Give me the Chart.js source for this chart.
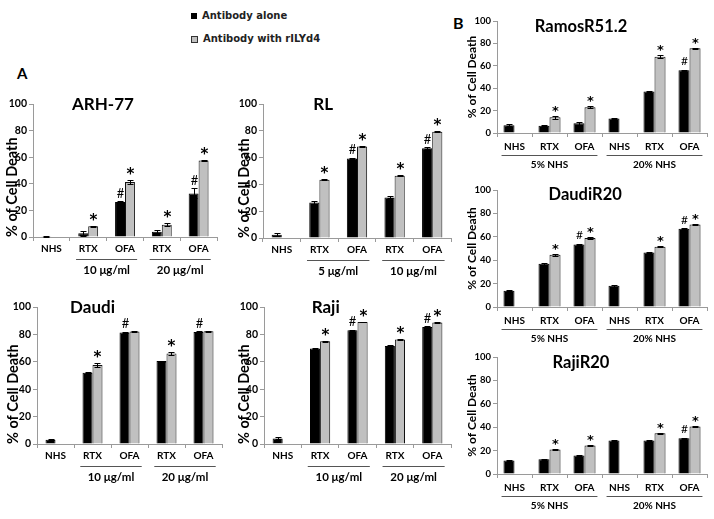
<!DOCTYPE html>
<html>
<head>
<meta charset="utf-8">
<script src="https://cdn.jsdelivr.net/npm/chart.js@4.4.1/dist/chart.umd.min.js"></script>
<style>
  body{margin:0;background:#fff;width:714px;height:519px;position:relative;overflow:hidden;font-family:Lato,sans-serif}
  canvas{position:absolute}
  .lab{position:absolute;font-weight:bold;color:#000;line-height:1}
  .key{position:absolute;font:bold 10px "DejaVu Sans";color:#222;white-space:nowrap;line-height:12px}
  .sw{position:absolute}
</style>
</head>
<body>
<div class="lab" style="left:17px;top:66px;font-size:15px">A</div>
<div class="lab" style="left:453px;top:15px;font-size:16px">B</div>
<div class="sw" style="left:191px;top:13px;width:6px;height:6px;background:#000"></div>
<div class="key" id="key0" style="left:202px;top:10px"></div>
<div class="sw" style="left:191px;top:36px;width:5px;height:5px;background:#c0c0c0;border:1px solid #333"></div>
<div class="key" id="key1" style="left:203px;top:33px"></div>

<canvas id="arh"></canvas>
<canvas id="rl"></canvas>
<canvas id="daudi"></canvas>
<canvas id="raji"></canvas>
<canvas id="ramos"></canvas>
<canvas id="daudiR"></canvas>
<canvas id="rajiR"></canvas>

<script>
// Data
const seriesNames = ['Antibody alone', 'Antibody with rILYd4'];
const catsA = ['NHS', 'RTX', 'OFA', 'RTX', 'OFA'];
const catsB = ['NHS', 'RTX', 'OFA', 'NHS', 'RTX', 'OFA'];
const spansA = [[1, 2], [3, 4]];
const spansB = [[0, 2], [3, 5]];
const yTicks = [0, 20, 40, 60, 80, 100];

// ARH-77
const arhAlone = [0.5, 2.8, 26.4, 4.0, 32.8];
const arhAloneErr = [0.4, 1.7, 0.6, 1.0, 3.7];
const arhRily = [null, 8.0, 41.4, 9.3, 57.5];
const arhRilyErr = [0, 0.4, 1.6, 1.0, 0.7];
const arhAloneMark = ['', '', '#', '', '#'];
const arhRilyMark = ['', '*', '*', '*', '*'];
const arhGroups = ['10 μg/ml', '20 μg/ml'];

// RL
const rlAlone = [2.5, 26.5, 59.4, 30.3, 67.0];
const rlAloneErr = [1.0, 0.8, 0.5, 0.8, 0.6];
const rlRily = [null, 43.4, 68.2, 46.4, 79.3];
const rlRilyErr = [0, 0.3, 0.4, 0.3, 0.4];
const rlAloneMark = ['', '', '#', '', '#'];
const rlRilyMark = ['', '*', '*', '*', '*'];
const rlGroups = ['5 μg/ml', '10 μg/ml'];

// Daudi
const daudiAlone = [3.1, 52.0, 81.4, 60.5, 81.8];
const daudiAloneErr = [0.5, 0.4, 0.5, 0.4, 0.4];
const daudiRily = [null, 57.6, 82.2, 66.1, 82.3];
const daudiRilyErr = [0, 1.2, 0.5, 1.2, 0.3];
const daudiAloneMark = ['', '', '#', '', '#'];
const daudiRilyMark = ['', '*', '', '*', ''];
const daudiGroups = ['10 μg/ml', '20 μg/ml'];

// Raji
const rajiAlone = [4.1, 69.7, 83.0, 71.6, 85.4];
const rajiAloneErr = [0.8, 0.6, 0.3, 0.4, 0.5];
const rajiRily = [null, 75.0, 89.0, 76.2, 88.6];
const rajiRilyErr = [0, 0.3, 0.2, 0.3, 0.3];
const rajiAloneMark = ['', '', '#', '', '#'];
const rajiRilyMark = ['', '*', '*', '*', '*'];
const rajiGroups = ['10 μg/ml', '20 μg/ml'];

// RamosR51.2
const ramosAlone = [7.0, 6.5, 8.7, 13.0, 37.0, 56.0];
const ramosAloneErr = [0.7, 0.6, 1.2, 0.8, 0.4, 0.4];
const ramosRily = [null, 14.0, 23.0, null, 68.0, 75.6];
const ramosRilyErr = [0, 1.4, 0.8, 0, 1.2, 0.4];
const ramosAloneMark = ['', '', '', '', '', '#'];
const ramosRilyMark = ['', '*', '*', '', '*', '*'];

// DaudiR20
const daudiRAlone = [13.9, 36.9, 53.4, 18.2, 46.6, 66.8];
const daudiRAloneErr = [0.6, 0.6, 0.5, 0.7, 0.4, 0.5];
const daudiRRily = [null, 44.6, 59.0, null, 51.4, 70.5];
const daudiRRilyErr = [0, 0.8, 0.8, 0, 0.4, 0.8];
const daudiRAloneMark = ['', '', '#', '', '', '#'];
const daudiRRilyMark = ['', '*', '*', '', '*', '*'];

// RajiR20
const rajiRAlone = [11.6, 12.7, 15.9, 28.6, 28.6, 30.6];
const rajiRAloneErr = [0.5, 0.4, 0.4, 0.4, 0.5, 0.4];
const rajiRRily = [null, 21.0, 24.4, null, 34.8, 40.5];
const rajiRRilyErr = [0, 0.4, 0.5, 0, 0.4, 0.3];
const rajiRAloneMark = ['', '', '', '', '', '#'];
const rajiRRilyMark = ['', '*', '*', '', '*', '*'];
const groupsB = ['5% NHS', '20% NHS'];

document.getElementById('key0').textContent = seriesNames[0];
document.getElementById('key1').textContent = seriesNames[1];

Chart.defaults.font.family = 'Lato';
const AXIS = '#9a9a9a';

// Extra drawing: error bars, significance marks, panel title, group underlines
function extras(p) {
  return {
    id: 'extras',
    afterDatasetsDraw(chart) {
      const ctx = chart.ctx, y = chart.scales.y;
      ctx.save();
      chart.data.datasets.forEach((ds, di) => {
        const meta = chart.getDatasetMeta(di);
        ds.data.forEach((v, i) => {
          if (v == null) return;
          const bx = Math.round(meta.data[i].x) + 0.5;
          const e = p.errs[di][i] || 0;
          const top = y.getPixelForValue(v + e);
          if (e > 0) {
            const t = Math.round(top) + 0.5;
            const b = Math.round(y.getPixelForValue(Math.max(v - e, 0))) + 0.5;
            ctx.strokeStyle = '#000'; ctx.lineWidth = 1;
            ctx.beginPath();
            ctx.moveTo(bx, t); ctx.lineTo(bx, b);
            ctx.moveTo(bx - 3, t); ctx.lineTo(bx + 3, t);
            ctx.moveTo(bx - 3, b); ctx.lineTo(bx + 3, b);
            ctx.stroke();
          }
          const m = p.marks[di][i];
          if (m) {
            const star = m === '*';
            ctx.font = star ? p.starFont : p.hashFont;
            ctx.textAlign = 'center'; ctx.textBaseline = 'alphabetic';
            ctx.fillStyle = '#000';
            const mt = ctx.measureText(m);
            const cy = top - (star ? p.starGap : p.hashGap);
            ctx.fillText(m, bx, cy + (mt.actualBoundingBoxAscent - mt.actualBoundingBoxDescent) / 2);
          }
        });
      });
      ctx.restore();
    },
    afterDraw(chart) {
      const ctx = chart.ctx, a = chart.chartArea, x = chart.scales.x;
      ctx.save();
      ctx.fillStyle = '#000';
      ctx.textAlign = 'center'; ctx.textBaseline = 'middle';
      ctx.font = 'bold ' + p.titleSize + 'px Lato';
      ctx.fillText(p.title, a.left + (a.right - a.left) * p.box.tx, a.top + p.box.ty);
      const cw = x.getPixelForValue(1) - x.getPixelForValue(0);
      ctx.strokeStyle = '#555'; ctx.lineWidth = 1;
      ctx.font = 'bold ' + p.groupSize + 'px Lato';
      p.spans.forEach(([s, e], k) => {
        const xs = x.getPixelForValue(s), xe = x.getPixelForValue(e);
        const ly = Math.round(a.bottom + p.lineOff) + 0.5;
        ctx.beginPath();
        ctx.moveTo(xs - cw * p.ext, ly); ctx.lineTo(xe + cw * p.ext, ly);
        ctx.stroke();
        ctx.fillText(p.groups[k], (xs + xe) / 2, a.bottom + p.groupOff);
      });
      ctx.restore();
    }
  };
}

function panel(id, p) {
  const b = p.box;
  const B = p.isB;
  const yW = 34, padTop = 12, padR = 6, xH = 44;
  const titleFont = B ? 12 : 14.5;
  const cv = document.getElementById(id);
  cv.width = yW + (b.R - b.L) + padR;
  cv.height = padTop + (b.B - b.T) + xH;
  cv.style.left = (b.L - yW) + 'px';
  cv.style.top = (b.T - padTop) + 'px';
  Object.assign(p, {
    starFont: B ? 'bold 13px "DejaVu Sans"' : 'bold 15px "DejaVu Sans"',
    hashFont: B ? '12px Lato' : '13px Lato',
    starGap: B ? 7 : 9,
    hashGap: 8.5,
    titleSize: B ? 16.5 : 17,
    groupSize: B ? 10 : 11.5,
    lineOff: 22,
    groupOff: B ? 32 : 33,
    ext: B ? 0.37 : 0.33
  });
  new Chart(cv, {
    type: 'bar',
    data: {
      labels: p.cats,
      datasets: [
        { label: seriesNames[0], data: p.alone, backgroundColor: '#000', borderColor: '#000', borderWidth: 1 },
        { label: seriesNames[1], data: p.rily, backgroundColor: '#c0c0c0', borderColor: '#111', borderWidth: 1 }
      ]
    },
    options: {
      responsive: false, animation: false, devicePixelRatio: 1,
      layout: { padding: { top: padTop, right: padR, left: 0, bottom: 0 } },
      datasets: { bar: { barPercentage: 1, categoryPercentage: B ? 0.63 : 0.54 } },
      plugins: { legend: { display: false }, tooltip: { enabled: false } },
      scales: {
        x: {
          grid: { display: true, drawOnChartArea: false, drawTicks: true, tickLength: 4, color: AXIS, offset: true },
          border: { display: true, color: AXIS },
          ticks: { font: { weight: 'bold', size: 10 }, color: '#000', padding: B ? 3.5 : 2, maxRotation: 0, autoSkip: false },
          afterFit: s => { s.height = xH; }
        },
        y: {
          min: yTicks[0], max: yTicks[yTicks.length - 1],
          grid: { drawOnChartArea: false, tickLength: 4, color: AXIS },
          border: { display: true, color: AXIS },
          ticks: { stepSize: yTicks[1] - yTicks[0], font: { weight: 'bold', size: B ? 9.5 : 10.5 }, color: '#000', padding: 2 },
          title: {
            display: true, text: '% of Cell Death', color: '#000',
            font: { weight: 'bold', size: titleFont },
            align: B ? 'center' : 'start',
            padding: { top: yW - b.yt - titleFont * 0.6, bottom: 0 }
          },
          afterFit: s => { s.width = yW; }
        }
      }
    },
    plugins: [extras(p)]
  });
}

panel('arh', { box: { L: 33, T: 104, R: 217, B: 237, tx: 0.38, ty: 1, yt: 20.5 }, cats: catsA, title: 'ARH-77',
  alone: arhAlone, rily: arhRily, errs: [arhAloneErr, arhRilyErr], marks: [arhAloneMark, arhRilyMark], groups: arhGroups, spans: spansA });
panel('rl', { box: { L: 263, T: 104, R: 451, B: 238, tx: 0.32, ty: 1, yt: 19 }, cats: catsA, title: 'RL',
  alone: rlAlone, rily: rlRily, errs: [rlAloneErr, rlRilyErr], marks: [rlAloneMark, rlRilyMark], groups: rlGroups, spans: spansA });
panel('daudi', { box: { L: 37, T: 307, R: 222, B: 444, tx: 0.30, ty: 1, yt: 24 }, cats: catsA, title: 'Daudi',
  alone: daudiAlone, rily: daudiRily, errs: [daudiAloneErr, daudiRilyErr], marks: [daudiAloneMark, daudiRilyMark], groups: daudiGroups, spans: spansA });
panel('raji', { box: { L: 264, T: 307, R: 451, B: 444, tx: 0.33, ty: 1, yt: 20 }, cats: catsA, title: 'Raji',
  alone: rajiAlone, rily: rajiRily, errs: [rajiAloneErr, rajiRilyErr], marks: [rajiAloneMark, rajiRilyMark], groups: rajiGroups, spans: spansA });
panel('ramos', { isB: true, box: { L: 497, T: 21, R: 707, B: 133, tx: 0.40, ty: 6, yt: 25 }, cats: catsB, title: 'RamosR51.2',
  alone: ramosAlone, rily: ramosRily, errs: [ramosAloneErr, ramosRilyErr], marks: [ramosAloneMark, ramosRilyMark], groups: groupsB, spans: spansB });
panel('daudiR', { isB: true, box: { L: 497, T: 190, R: 707, B: 307, tx: 0.42, ty: 5, yt: 25 }, cats: catsB, title: 'DaudiR20',
  alone: daudiRAlone, rily: daudiRRily, errs: [daudiRAloneErr, daudiRRilyErr], marks: [daudiRAloneMark, daudiRRilyMark], groups: groupsB, spans: spansB });
panel('rajiR', { isB: true, box: { L: 497, T: 357, R: 707, B: 474, tx: 0.40, ty: 6, yt: 25 }, cats: catsB, title: 'RajiR20',
  alone: rajiRAlone, rily: rajiRRily, errs: [rajiRAloneErr, rajiRRilyErr], marks: [rajiRAloneMark, rajiRRilyMark], groups: groupsB, spans: spansB });
</script>
</body>
</html>
